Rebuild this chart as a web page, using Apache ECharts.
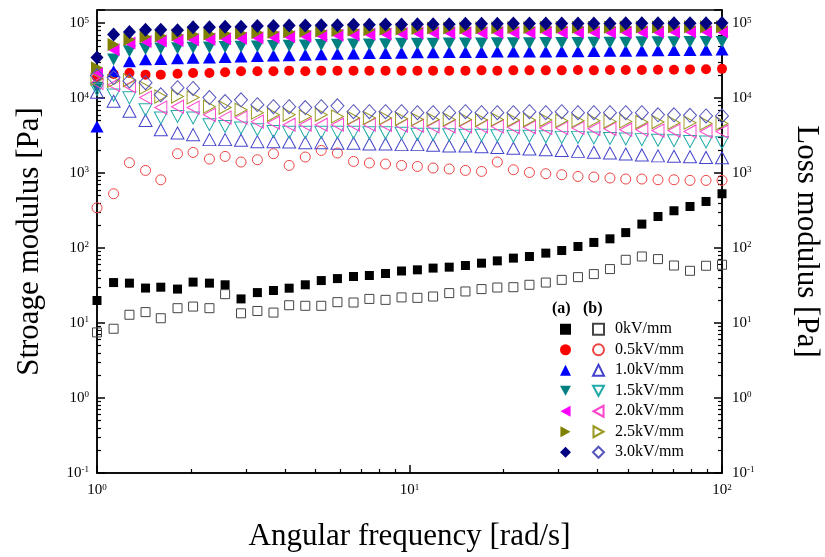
<!DOCTYPE html>
<html>
<head>
<meta charset="utf-8">
<script src="https://cdn.jsdelivr.net/npm/echarts@6/dist/echarts.min.js"></script>
<style>
  html, body { margin: 0; padding: 0; background: #fff; }
  #chart { width: 825px; height: 557px; }
</style>
</head>
<body>
<div id="chart"></div>
<script>
const serif = '"Liberation Serif", "DejaVu Serif", serif'

// angular frequency [rad/s]
const freq = [1.00, 1.13, 1.27, 1.43, 1.60, 1.81, 2.03, 2.29, 2.57, 2.89,
  3.26, 3.67, 4.12, 4.64, 5.22, 5.88, 6.62, 7.44, 8.38, 9.43,
  10.6, 11.9, 13.4, 15.1, 17.0, 19.1, 21.5, 24.2, 27.3, 30.7,
  34.6, 38.9, 43.8, 49.2, 55.4, 62.4, 70.2, 79.0, 88.9, 100]

const fields = ['0kV/mm', '0.5kV/mm', '1.0kV/mm', '1.5kV/mm', '2.0kV/mm', '2.5kV/mm', '3.0kV/mm']

// (a) storage modulus G' [Pa]
const storage0 = [20, 34.7, 34.1, 29.3, 30.1, 28.4, 35.2, 34.1, 32.4, 21.0,
  25.5, 27.2, 29.2, 32.4, 36.9, 39.2, 41.8, 43.1, 45.8, 49.5,
  51.3, 54.1, 55.7, 58.6, 63.0, 67.6, 73.5, 77.2, 85.7, 92.8,
  105, 119, 133, 161, 209, 264, 315, 359, 419, 531]
const storage05 = [19000, 21000, 21700, 20600, 20600, 21200, 21700, 21700, 22200, 22800,
  22800, 22800, 23300, 22800, 23300, 23300, 23300, 23300, 23300, 23300,
  23300, 23300, 23300, 23300, 23500, 23300, 23500, 23500, 23500, 23500,
  23800, 23500, 23800, 23800, 23800, 24000, 24000, 24200, 24300, 24600]
const storage10 = [4200, 22800, 31000, 33000, 33400, 34000, 34500, 35000, 35500, 36000,
  36500, 37000, 37500, 38000, 38500, 39000, 39500, 40000, 40000, 40500,
  41000, 41000, 41400, 41400, 41400, 41800, 41800, 42000, 42000, 42200,
  42400, 42600, 42800, 43000, 43200, 43500, 43800, 44000, 44200, 44500]
const storage15 = [13800, 32700, 42200, 45400, 46000, 46500, 47000, 47500, 48000, 48500,
  49000, 49500, 50000, 50500, 51000, 51500, 52000, 52000, 52500, 53000,
  53000, 53000, 53500, 53500, 53500, 54000, 54000, 54000, 54500, 54500,
  54500, 55000, 55000, 55000, 55500, 55500, 55500, 56000, 56000, 56000]
const storage20 = [21200, 44400, 54600, 57000, 58000, 59000, 60000, 61000, 62000, 63000,
  64000, 65000, 66000, 67000, 68000, 69000, 70000, 71000, 72000, 73000,
  74000, 74300, 74300, 74500, 74500, 75000, 75000, 75000, 75500, 75500,
  75500, 76000, 76000, 76000, 76500, 76500, 77000, 77000, 77000, 77000]
const storage25 = [25500, 51800, 60400, 66000, 68000, 70000, 71000, 72000, 73000, 74000,
  75000, 76000, 77000, 78000, 79000, 80000, 81000, 82000, 83000, 84000,
  85000, 86000, 86500, 86500, 87000, 87000, 87500, 87500, 88000, 88000,
  88000, 88500, 88500, 89000, 89000, 89000, 89500, 89500, 90000, 90000]
const storage30 = [34800, 70500, 76600, 82000, 82000, 80500, 88000, 88000, 90000, 90000,
  92000, 92000, 93000, 93000, 94000, 94000, 95000, 95000, 96000, 96000,
  97000, 97000, 97000, 98000, 98000, 98000, 99000, 99000, 99000, 99000,
  99000, 99000, 99000, 100000, 100000, 100000, 100000, 100000, 100000, 101000]

// (b) loss modulus G'' [Pa]
const loss0 = [7.5, 8.4, 12.9, 14.0, 11.6, 15.8, 16.6, 15.8, 24.3, 13.5,
  14.5, 13.8, 17.3, 17.0, 17.0, 19.0, 18.8, 21.0, 20.4, 22.0,
  21.7, 22.6, 25.1, 26.4, 28.4, 29.8, 30.1, 32.4, 34.7, 37.7,
  41.0, 45.0, 52.5, 69.8, 77.3, 71.3, 58.6, 49.8, 58.1, 60]
const loss05 = [345, 531, 1377, 1087, 816, 1816, 1890, 1543, 1671, 1407,
  1510, 1816, 1267, 1640, 2009, 1855, 1432, 1365, 1322, 1267,
  1228, 1170, 1135, 1087, 1054, 1407, 1110, 1021, 982, 952,
  904, 887, 861, 834, 834, 816, 816, 800, 800, 800]
const loss10 = [12000, 9100, 6700, 5050, 3800, 3430, 3260, 2800, 2800, 2750,
  2630, 2630, 2600, 2550, 2550, 2500, 2500, 2450, 2450, 2400,
  2400, 2350, 2300, 2300, 2250, 2200, 2150, 2100, 2050, 2000,
  1950, 1900, 1850, 1800, 1750, 1700, 1680, 1650, 1620, 1600]
const loss15 = [13000, 11000, 10100, 7000, 5450, 5700, 5450, 4430, 4200, 4000,
  3800, 3600, 3500, 3500, 3500, 3500, 3500, 3450, 3450, 3400,
  3300, 3300, 3250, 3200, 3200, 3150, 3100, 3100, 3050, 3000,
  3000, 2950, 2900, 2850, 2800, 2750, 2700, 2650, 2600, 2550]
const loss20 = [16000, 15000, 14500, 10200, 7500, 7700, 7500, 6000, 5500, 5500,
  4860, 4700, 4430, 4430, 4430, 4430, 4430, 4430, 4400, 4300,
  4300, 4200, 4200, 4200, 4200, 4200, 4100, 4100, 4000, 4000,
  4000, 3900, 3900, 3800, 3800, 3700, 3700, 3600, 3600, 3600]
const loss25 = [18000, 17000, 17400, 13800, 10500, 10500, 10200, 7700, 7500, 7000,
  6400, 6000, 6000, 5700, 6000, 5700, 5450, 5450, 5450, 5300,
  5200, 5200, 5200, 5200, 5100, 5200, 5100, 5100, 5100, 5000,
  5000, 5000, 4900, 4900, 4800, 4800, 4700, 4700, 4600, 4600]
const loss30 = [20000, 18800, 17000, 16100, 11100, 13800, 13500, 10200, 9000, 9500,
  8200, 7700, 7700, 7500, 7700, 7900, 6600, 6600, 6600, 6600,
  6400, 6400, 6400, 6600, 6400, 6400, 6400, 6600, 6400, 6600,
  6400, 6400, 6400, 6400, 6400, 6000, 6000, 5900, 5800, 5800]

const storage = [storage0, storage05, storage10, storage15, storage20, storage25, storage30]
const loss = [loss0, loss05, loss10, loss15, loss20, loss25, loss30]

const fillColors = ['#000000', '#ff0000', '#0000ff', '#008080', '#ff00ff', '#808000', '#000080']
const lineColors = ['#444444', '#ee4444', '#4444cc', '#22aaaa', '#ff44cc', '#999922', '#5555bb']
const symbols = ['rect', 'circle', 'triangle',
  'path://M0,0L12,0L6,11Z',
  'path://M11,0L11,12L0,6Z',
  'path://M0,0L11,6L0,12Z',
  'diamond']
const sizes = [9, 10, [13, 12], [13, 12], [12, 13], [12, 13], [13, 14]]

const majorY = [0.1, 1, 10, 100, 1000, 10000, 100000]

function pow10(v) {
  const e = Math.round(Math.log10(v))
  return '{b|10}{e|' + e + '}'
}

const rich = {
  b: { fontFamily: serif, fontSize: 15, color: '#000' },
  e: { fontFamily: serif, fontSize: 9, color: '#000', verticalAlign: 'top' }
}

var chart = echarts.init(document.getElementById('chart'))

let series = []
for (let i = 0; i < fields.length; i++) {
  series.push({
    name: "G' " + fields[i],
    type: 'scatter',
    symbol: symbols[i],
    symbolSize: sizes[i],
    itemStyle: { color: fillColors[i], opacity: 1 },
    data: freq.map((f, k) => [f, storage[i][k]])
  })
}
for (let i = 0; i < fields.length; i++) {
  series.push({
    name: "G'' " + fields[i],
    type: 'scatter',
    symbol: symbols[i],
    symbolSize: sizes[i],
    itemStyle: { color: 'rgba(255,255,255,0)', borderColor: lineColors[i], borderWidth: 1, opacity: 1 },
    data: freq.map((f, k) => [f, loss[i][k]])
  })
}

const tickLine = { color: '#000', width: 1.5 }
const minorLine = { color: '#000', width: 1.2 }

var option = {
  animation: false,
  backgroundColor: '#fff',
  grid: {
    left: 97, right: 103, top: 10, bottom: 84,
    outerBoundsMode: 'none', containLabel: false,
    show: true, borderColor: '#000', borderWidth: 1.5
  },
  legend: [
    {
      data: series.slice(0, 7).map(s => s.name),
      orient: 'vertical',
      left: 555, top: 314,
      itemWidth: 11, itemHeight: 11, itemGap: 0,
      selectedMode: false,
      formatter: () => ' ',
      textStyle: { fontFamily: serif, fontSize: 16, lineHeight: 20.5, color: 'rgba(0,0,0,0)' }
    },
    {
      data: series.slice(7).map(s => s.name),
      orient: 'vertical',
      left: 587, top: 314,
      itemWidth: 11, itemHeight: 11, itemGap: 0,
      selectedMode: false,
      formatter: name => name.split(' ')[1],
      textStyle: { fontFamily: serif, fontSize: 16, lineHeight: 20.5, color: '#000', padding: [0, 0, 0, 6] }
    }
  ],
  graphic: [
    { type: 'text', left: 552, top: 301, style: { text: '(a)', font: 'bold 16px ' + serif, fill: '#000' } },
    { type: 'text', left: 583, top: 301, style: { text: '(b)', font: 'bold 16px ' + serif, fill: '#000' } }
  ],
  xAxis: [
    {
      type: 'log', logBase: 10, min: 1, max: 100, position: 'bottom',
      name: 'Angular frequency [rad/s]', nameLocation: 'middle', nameGap: 48,
      nameTextStyle: { fontFamily: serif, fontSize: 31, color: '#000' },
      axisLine: { onZero: false, lineStyle: tickLine },
      axisTick: { inside: true, length: 8, lineStyle: tickLine },
      minorTick: { show: true, splitNumber: 9, length: 4, lineStyle: minorLine },
      axisLabel: { margin: 10, formatter: pow10, rich: rich },
      splitLine: { show: false }
    }
  ],
  yAxis: [
    {
      type: 'log', logBase: 10, min: 0.1, max: 150000, position: 'left',
      name: 'Stroage modulus [Pa]', nameLocation: 'middle', nameGap: 52,
      nameTextStyle: { fontFamily: serif, fontSize: 31, color: '#000' },
      axisLine: { onZero: false, lineStyle: tickLine },
      axisTick: { inside: true, length: 8, lineStyle: tickLine },
      minorTick: { show: true, splitNumber: 9, length: 4, lineStyle: minorLine },
      axisLabel: { margin: 8, formatter: pow10, rich: rich, customValues: majorY },
      splitLine: { show: false }
    },
    {
      type: 'log', logBase: 10, min: 0.1, max: 150000, position: 'right',
      name: 'Loss modulus [Pa]', nameLocation: 'middle', nameGap: 69, nameRotate: -90,
      nameTextStyle: { fontFamily: serif, fontSize: 31, color: '#000' },
      axisLine: { onZero: false, lineStyle: tickLine },
      axisTick: { inside: true, length: 8, lineStyle: tickLine },
      minorTick: { show: true, splitNumber: 9, length: 4, lineStyle: minorLine },
      axisLabel: { margin: 10, formatter: pow10, rich: rich, customValues: majorY },
      splitLine: { show: false }
    }
  ],
  series: series
}

chart.setOption(option)
</script>
</body>
</html>
